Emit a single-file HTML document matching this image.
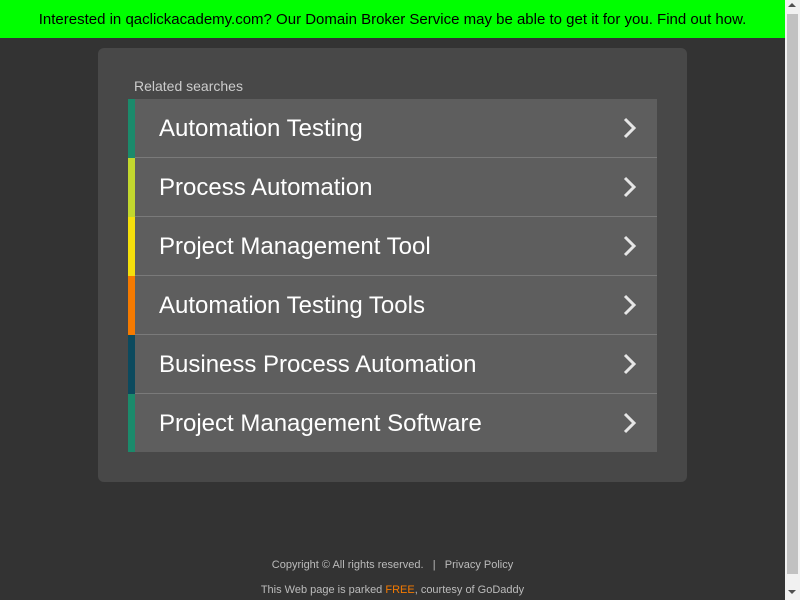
<!DOCTYPE html>
<html><head><style>
*{margin:0;padding:0;box-sizing:border-box}
body{width:800px;height:600px;overflow:hidden;background:#333;font-family:"Liberation Sans",Arial,sans-serif;position:relative}
.banner{position:absolute;left:0;top:0;width:785px;height:38px;background:#00ff00;color:#000;font-size:15px;text-align:center;line-height:40px}
.sb{position:absolute;left:785px;top:0;width:15px;height:600px;background:#f1f1f1}
.thumb{position:absolute;left:787px;top:14px;width:11px;height:560px;background:#c1c1c1}
.panel{position:absolute;left:98px;top:48px;width:589px;height:434px;background:#484848;border-radius:6px}
.lbl{position:absolute;left:134px;top:78px;font-size:14px;color:#ccc}
.row{position:absolute;left:128px;width:529px;height:59px;background:#5e5e5e;border-bottom:1px solid #7a7a7a}
.row .s{position:absolute;left:0;top:0;width:7px;height:59px}
.row .t{position:absolute;left:31px;top:1px;line-height:58px;font-size:24px;color:#fff}
.row svg{position:absolute;left:494px;top:18px}
.f{position:absolute;left:0;width:785px;text-align:center;font-size:11px;color:#bbb}
</style></head><body>
<div class="banner">Interested in qaclickacademy.com? Our Domain Broker Service may be able to get it for you. Find out how.</div>
<div class="sb"></div><div class="thumb"></div>
<div style="position:absolute;left:788px;top:3px;width:0;height:0;border-left:4px solid transparent;border-right:4px solid transparent;border-bottom:4px solid #505050"></div>
<div style="position:absolute;left:788px;top:590px;width:0;height:0;border-left:4px solid transparent;border-right:4px solid transparent;border-top:4px solid #505050"></div>
<div class="panel"></div>
<div class="lbl">Related searches</div>
<div class="row" style="top:99px"><div class="s" style="background:#1b8a6b"></div><div class="t">Automation Testing</div><svg width="16" height="22"><path d="M3 2 L12 11 L3 20" stroke="#e6e6e6" stroke-width="3" fill="none"/></svg></div>
<div class="row" style="top:158px"><div class="s" style="background:#c2d72e"></div><div class="t">Process Automation</div><svg width="16" height="22"><path d="M3 2 L12 11 L3 20" stroke="#e6e6e6" stroke-width="3" fill="none"/></svg></div>
<div class="row" style="top:217px"><div class="s" style="background:#f5df0c"></div><div class="t">Project Management Tool</div><svg width="16" height="22"><path d="M3 2 L12 11 L3 20" stroke="#e6e6e6" stroke-width="3" fill="none"/></svg></div>
<div class="row" style="top:276px"><div class="s" style="background:#f57a00"></div><div class="t">Automation Testing Tools</div><svg width="16" height="22"><path d="M3 2 L12 11 L3 20" stroke="#e6e6e6" stroke-width="3" fill="none"/></svg></div>
<div class="row" style="top:335px"><div class="s" style="background:#0c4a5e"></div><div class="t">Business Process Automation</div><svg width="16" height="22"><path d="M3 2 L12 11 L3 20" stroke="#e6e6e6" stroke-width="3" fill="none"/></svg></div>
<div class="row" style="top:394px;border-bottom:none;height:58px"><div class="s" style="background:#1b8a6b;height:58px"></div><div class="t">Project Management Software</div><svg width="16" height="22"><path d="M3 2 L12 11 L3 20" stroke="#e6e6e6" stroke-width="3" fill="none"/></svg></div>
<div class="f" style="top:559px">Copyright © All rights reserved. &nbsp; | &nbsp; Privacy Policy</div>
<div class="f" style="top:584px">This Web page is parked <span style="color:#f57a00">FREE</span>, courtesy of GoDaddy</div>
</body></html>
